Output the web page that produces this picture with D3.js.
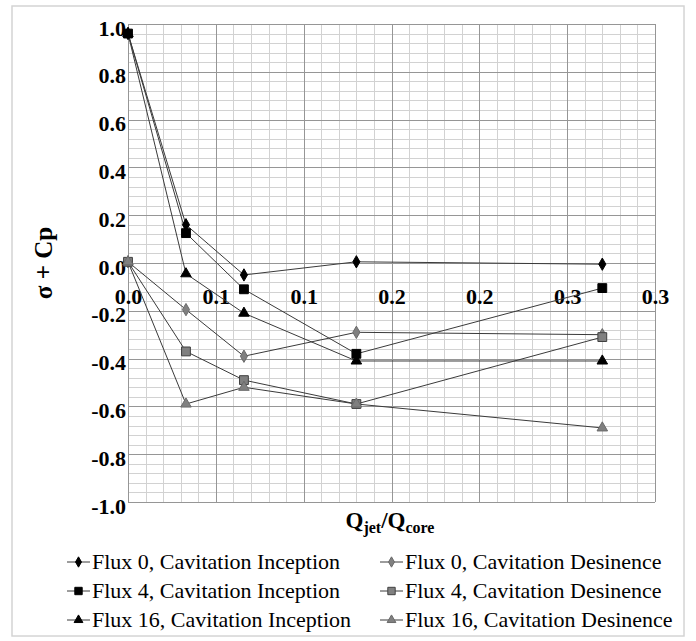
<!DOCTYPE html>
<html>
<head>
<meta charset="utf-8">
<script src="https://cdn.jsdelivr.net/npm/d3@7/dist/d3.min.js"></script>
<style>
  html, body { margin: 0; padding: 0; background: #fff; }
  svg { display: block; }
</style>
</head>
<body>
<svg id="chart" width="696" height="641"></svg>
<script>
// ---------------- data ----------------
const xValues = [0, 0.033, 0.066, 0.13, 0.27];
const flux0Inception = [0.96, 0.16, -0.05, 0.005, -0.005];
const flux0Desinence = [0.005, -0.195, -0.39, -0.29, -0.30];
const flux4Inception = [0.96, 0.125, -0.11, -0.38, -0.105];
const flux4Desinence = [0.005, -0.37, -0.49, -0.59, -0.31];
const flux16Inception = [0.96, -0.045, -0.21, -0.41, -0.41];
const flux16Desinence = [0.005, -0.59, -0.52, -0.59, -0.69];
const seriesNames = [
  "Flux 0, Cavitation Inception", "Flux 0, Cavitation Desinence",
  "Flux 4, Cavitation Inception", "Flux 4, Cavitation Desinence",
  "Flux 16, Cavitation Inception", "Flux 16, Cavitation Desinence"
];
const xTickValues = [0, 0.05, 0.1, 0.15, 0.2, 0.25, 0.3];
const xTickLabels = ["0.0", "0.1", "0.1", "0.2", "0.2", "0.3", "0.3"];
const yTickValues = [-1.0, -0.8, -0.6, -0.4, -0.2, 0.0, 0.2, 0.4, 0.6, 0.8, 1.0];
const yTickLabels = ["-1.0", "-0.8", "-0.6", "-0.4", "-0.2", "0.0", "0.2", "0.4", "0.6", "0.8", "1.0"];

// ---------------- styling ----------------
const seriesValues = [flux0Inception, flux0Desinence, flux4Inception, flux4Desinence, flux16Inception, flux16Desinence];
const seriesShapes = [d3.symbolDiamond, d3.symbolDiamond, d3.symbolSquare, d3.symbolSquare, d3.symbolTriangle, d3.symbolTriangle];
const seriesFill = ["#000", "#808080", "#000", "#808080", "#000", "#808080"];
const seriesStroke = ["#000", "#6a6a6a", "#000", "#404040", "#000", "#6a6a6a"];
const symbolSizes = {diamond: 44, square: 78, triangle: 48};

const svg = d3.select("#chart");
const serif = '"Liberation Serif"';

// outer border
svg.append("rect").attr("x", 12).attr("y", 6).attr("width", 672).attr("height", 630)
  .attr("fill", "#fff").attr("stroke", "#d4d4d4").attr("stroke-width", 1.5);

const x = d3.scaleLinear().domain([0, 0.3]).range([128, 655]);
const y = d3.scaleLinear().domain([-1, 1]).range([502, 24]);

// grid
const grid = svg.append("g");
const xMinor = d3.range(0, 31).map(i => i * 0.01);
const yMinor = d3.range(0, 51).map(i => -1 + i * 0.04);
grid.selectAll("line.xm").data(xMinor).join("line")
  .attr("x1", d => Math.round(x(d)) + 0.5).attr("x2", d => Math.round(x(d)) + 0.5)
  .attr("y1", y(1)).attr("y2", y(-1))
  .attr("stroke", "#d2d2d2").attr("stroke-width", 1);
grid.selectAll("line.ym").data(yMinor).join("line")
  .attr("y1", d => Math.round(y(d)) + 0.5).attr("y2", d => Math.round(y(d)) + 0.5)
  .attr("x1", x(0)).attr("x2", x(0.3))
  .attr("stroke", "#d2d2d2").attr("stroke-width", 1);
const grid2 = svg.append("g");
grid2.selectAll("line").data(xMinor.filter((d, i) => i % 5 === 0)).join("line")
  .attr("x1", d => Math.round(x(d)) + 0.5).attr("x2", d => Math.round(x(d)) + 0.5)
  .attr("y1", y(1)).attr("y2", y(-1)).attr("stroke", "#969696");
const grid3 = svg.append("g");
grid3.selectAll("line").data(yMinor.filter((d, i) => i % 5 === 0)).join("line")
  .attr("y1", d => Math.round(y(d)) + 0.5).attr("y2", d => Math.round(y(d)) + 0.5)
  .attr("x1", x(0)).attr("x2", x(0.3)).attr("stroke", "#969696");

// y axis
const yAxis = d3.axisLeft(y).tickValues(yTickValues).tickSize(0).tickPadding(2)
  .tickFormat((d, i) => yTickLabels[i]);
const gy = svg.append("g").attr("transform", `translate(${x(0)},0)`).call(yAxis);
gy.attr("font-family", serif).attr("font-size", 22);
gy.select(".domain").remove();
gy.selectAll("text").style("font-family", serif).style("font-size", "22px").style("font-weight", "bold")
  .attr("fill", "#000").attr("dy", "0.5em");

// x axis (at y = 0)
const xAxis = d3.axisBottom(x).tickValues(xTickValues).tickSize(0).tickPadding(0)
  .tickFormat((d, i) => xTickLabels[i]);
const gx = svg.append("g").attr("transform", `translate(0,${y(0)})`).call(xAxis);
gx.attr("font-family", serif).attr("font-size", 22);
gx.select(".domain").remove();
gx.selectAll("text").style("font-family", serif).style("font-size", "22px").style("font-weight", "bold")
  .attr("fill", "#000").attr("y", 41).attr("dy", 0);

// series
const line = d3.line().x((d, i) => x(xValues[i])).y(d => y(d));
seriesValues.forEach((vals, s) => {
  svg.append("path").attr("d", line(vals)).attr("fill", "none")
    .attr("stroke", "#3a3a3a").attr("stroke-width", 1);
});
function symSize(shape) {
  return shape === d3.symbolDiamond ? symbolSizes.diamond :
         shape === d3.symbolSquare ? symbolSizes.square : symbolSizes.triangle;
}
seriesValues.forEach((vals, s) => {
  const sym = d3.symbol().type(seriesShapes[s]).size(symSize(seriesShapes[s]));
  svg.append("g").selectAll("path").data(vals).join("path")
    .attr("transform", (d, i) => `translate(${x(xValues[i])},${y(d)})`)
    .attr("d", sym())
    .attr("fill", seriesFill[s]).attr("stroke", seriesStroke[s]).attr("stroke-width", 1);
});

// axis titles
svg.append("text").attr("transform", "translate(52,263) rotate(-90)")
  .attr("text-anchor", "middle").style("font-family", serif).style("font-size", "25px")
  .style("font-weight", "bold").text("σ + Cp");

const xt = svg.append("text").attr("x", 390).attr("y", 528).attr("text-anchor", "middle")
  .style("font-family", serif).style("font-size", "23px").style("font-weight", "bold");
xt.append("tspan").text("Q");
xt.append("tspan").style("font-size", "16px").attr("dy", 5).text("jet");
xt.append("tspan").attr("dy", -5).text("/Q");
xt.append("tspan").style("font-size", "16px").attr("dy", 5).text("core");

// legend
const legendX = [67, 380];
const legendY = [562, 591, 620];
seriesNames.forEach((name, s) => {
  const col = s % 2, row = Math.floor(s / 2);
  const g = svg.append("g").attr("transform", `translate(${legendX[col]},${legendY[row]})`);
  g.append("line").attr("x1", 0).attr("x2", 23).attr("y1", 0).attr("y2", 0)
    .attr("stroke", "#3a3a3a").attr("stroke-width", 1);
  g.append("path").attr("transform", "translate(11.5,0)")
    .attr("d", d3.symbol().type(seriesShapes[s]).size(symSize(seriesShapes[s]) * 0.7)())
    .attr("fill", seriesFill[s]).attr("stroke", seriesStroke[s]).attr("stroke-width", 1);
  g.append("text").attr("x", 25).attr("y", 7).style("font-family", serif).style("font-size", "22px")
    .attr("fill", "#000").text(name);
});
</script>
</body>
</html>
